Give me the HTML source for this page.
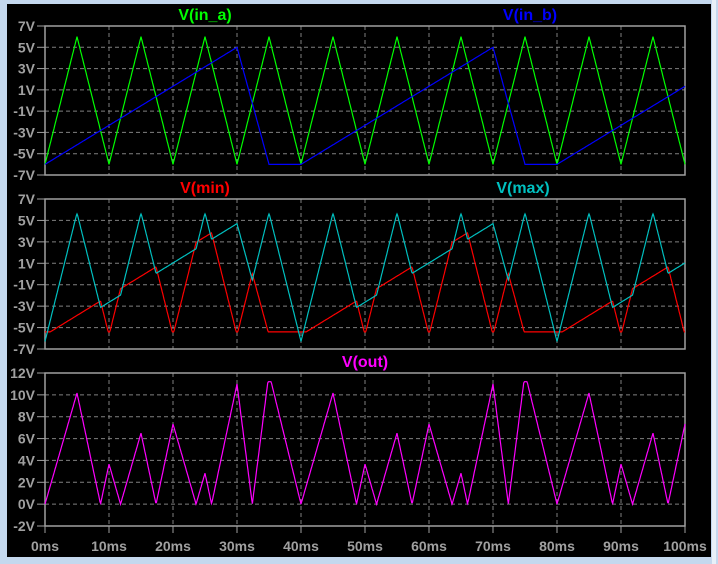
<!DOCTYPE html>
<html><head><meta charset="utf-8"><style>
html,body{margin:0;padding:0;background:#c4d8ee;}
svg{display:block}
text{font-family:"Liberation Sans",sans-serif;font-weight:bold;}
</style></head><body>
<svg id="s" width="718" height="564" xmlns="http://www.w3.org/2000/svg">
<rect x="0" y="0" width="718" height="564" fill="#c4d8ee"/>
<rect x="712" y="0" width="4" height="564" fill="#e8f0f8"/>
<rect x="7" y="4" width="704" height="553" fill="#000"/>
<g id="g"></g>
</svg>
<script>
var g=document.getElementById('g'),NS='http://www.w3.org/2000/svg';
function el(t,a,txt){var e=document.createElementNS(NS,t);for(var k in a)e.setAttribute(k,a[k]);if(txt!==undefined)e.textContent=txt;g.appendChild(e);return e;}
var X0=45,X1=685;function X(t){return X0+t*6.4;}
var panels=[{top:26,bot:175,vmax:7,vmin:-7,ticks:[7,5,3,1,-1,-3,-5,-7]},
{top:199,bot:349,vmax:7,vmin:-7,ticks:[7,5,3,1,-1,-3,-5,-7]},
{top:373,bot:526,vmax:12,vmin:-2,ticks:[12,10,8,6,4,2,0,-2]}];
function Y(p,v){return p.top+(p.vmax-v)/(p.vmax-p.vmin)*(p.bot-p.top);}
panels.forEach(function(p,i){
 p.ticks.forEach(function(v,j){var y=Y(p,v);
  if(j>0&&j<p.ticks.length-1)el('line',{x1:X0,x2:X1,y1:y,y2:y,stroke:'#808080','stroke-dasharray':'4,3'});
  el('line',{x1:X0-8,x2:X0,y1:y,y2:y,stroke:'#a0a0a0'});
  el('text',{x:X0-10,y:y+5,'text-anchor':'end','font-size':'14',fill:'#a0a0a0'},v+'V');});
 for(var t=10;t<100;t+=10)el('line',{x1:X(t),x2:X(t),y1:p.top,y2:p.bot,stroke:'#808080','stroke-dasharray':'4,3'});
 el('rect',{x:X0,y:p.top,width:X1-X0,height:p.bot-p.top,fill:'none',stroke:'#a0a0a0','stroke-width':1.5});
});
for(var t=0;t<=100;t+=10){el('line',{x1:X(t),x2:X(t),y1:526,y2:533,stroke:'#a0a0a0'});
 el('text',{x:X(t),y:551,'text-anchor':'middle','font-size':'14',fill:'#a0a0a0'},t+'ms');}
function a(t){var m=t%10;return m<5?-6+12*m/5:6-12*(m-5)/5;}
function b(t){var m=t%40;if(t<30)return -6+11*t/30;
 if(m<30)return -6+11*m/30; if(m<35)return 5-11*(m-30)/5; return -6;}
function line(p,f,c){var pts=[];for(var t=0;t<=100.001;t+=0.1){pts.push(X(t).toFixed(1)+','+Y(p,f(t)).toFixed(1));}
 el('polyline',{points:pts.join(' '),fill:'none',stroke:c,'stroke-width':1.2});}
line(panels[0],a,'#00ff00');line(panels[0],b,'#0000ff');
line(panels[1],function(t){return Math.max(-5.4,Math.min(a(t),b(t))+0.3);},'#ff0000');
line(panels[1],function(t){return Math.min(5.6,Math.max(a(t),b(t))-0.3);},'#00c0c0');
line(panels[2],function(t){return Math.min(11.2,Math.abs(a(t)-b(t)));},'#ff00ff');
el('text',{x:205,y:20,'text-anchor':'middle','font-size':'16',fill:'#00ff00'},'V(in_a)');
el('text',{x:530,y:20,'text-anchor':'middle','font-size':'16',fill:'#0000ff'},'V(in_b)');
el('text',{x:205,y:193,'text-anchor':'middle','font-size':'16',fill:'#ff0000'},'V(min)');
el('text',{x:523,y:193,'text-anchor':'middle','font-size':'16',fill:'#00c0c0'},'V(max)');
el('text',{x:365,y:367,'text-anchor':'middle','font-size':'16',fill:'#ff00ff'},'V(out)');
</script>
</body></html>
